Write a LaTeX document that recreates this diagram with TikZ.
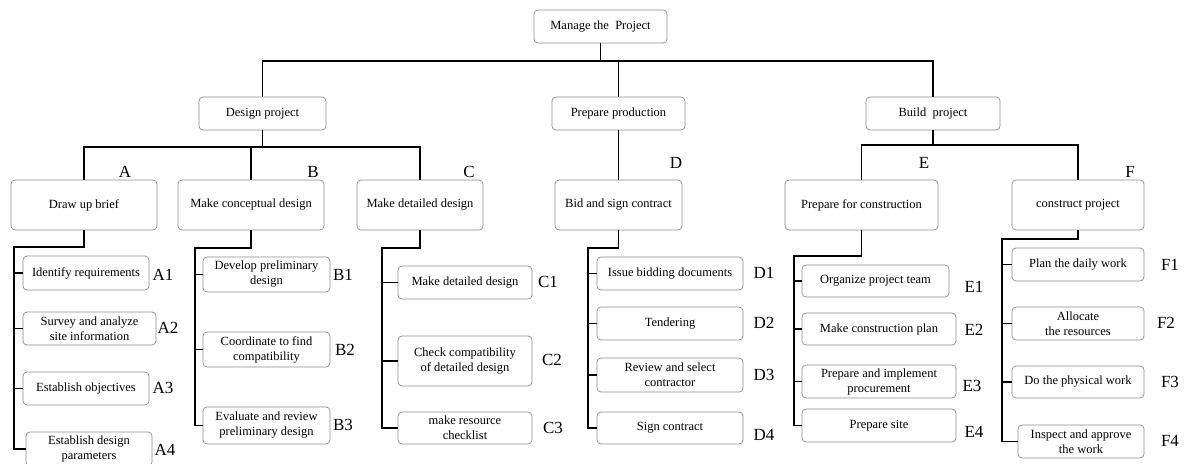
\documentclass[tikz,border=0pt]{standalone}
\usepackage{fontspec}
\setmainfont{Liberation Serif}
\usepackage{tikz}

\begin{document}
\begin{tikzpicture}[x=1pt,y=-1pt,
    box/.style={draw=black!45, line width=0.7pt, rounded corners=4pt, align=center,
      inner sep=0pt, font=\fontsize{12.5}{15}\selectfont},
    conn/.style={line width=1.6pt, black},
    tag/.style={font=\fontsize{17}{17}\selectfont, inner sep=0pt}]
      \useasboundingbox (0,0) rectangle (1188,463) ;
      \clip (0,0) rectangle (1188,463) ;
      % top levels
      \node[box,minimum width=133pt,minimum height=33pt] (M) at (600.5,26.5) {Manage the\ \ Project} ;
      \node[box,minimum width=127pt,minimum height=33pt] (Dp) at (262.5,113.5) {Design project} ;
      \node[box,minimum width=133pt,minimum height=33pt] (Pp) at (618.5,113.5) {Prepare production} ;
      \node[box,minimum width=134pt,minimum height=33pt] (Bp) at (933,113.5) {Build\ \ project} ;
      \node[box,minimum width=146pt,minimum height=50pt] (A) at (84,205) {Draw up brief} ;
      \node[box,minimum width=146pt,minimum height=50pt] (B) at (251,205) {Make conceptual design} ;
      \node[box,minimum width=126pt,minimum height=50pt] (C) at (420,205) {Make detailed design} ;
      \node[box,minimum width=127pt,minimum height=50pt] (D) at (618.5,205) {Bid and sign contract} ;
      \node[box,minimum width=153pt,minimum height=50pt] (E) at (861.5,205) {Prepare for construction} ;
      \node[box,minimum width=132pt,minimum height=50pt] (F) at (1078,205) {construct project} ;
      \node[tag] (tA) at (125,172) {A} ;
      \node[tag] (tB) at (313,172) {B} ;
      \node[tag] (tC) at (469,172) {C} ;
      \node[tag] (tD) at (676,163) {D} ;
      \node[tag] (tE) at (924,163) {E} ;
      \node[tag] (tF) at (1130,172) {F} ;
      % tasks
      \node[box,minimum width=126pt,minimum height=34pt] (A1) at (86,273) {Identify requirements} ;
      \node[box,minimum width=133pt,minimum height=33pt] (A2) at (89.5,328.5) {Survey and analyze\\site information} ;
      \node[box,minimum width=126pt,minimum height=33pt] (A3) at (86,388.5) {Establish objectives} ;
      \node[box,minimum width=126pt,minimum height=34pt] (A4) at (89,449) {Establish design\\parameters} ;
      \node[box,minimum width=127pt,minimum height=35pt] (B1) at (266.5,274.5) {Develop preliminary\\design} ;
      \node[box,minimum width=127pt,minimum height=35pt] (B2) at (266.5,349.5) {Coordinate to find\\compatibility} ;
      \node[box,minimum width=127pt,minimum height=37pt] (B3) at (266.5,425.5) {Evaluate and review\\preliminary design} ;
      \node[box,minimum width=134pt,minimum height=33pt] (C1) at (465,282.5) {Make detailed design} ;
      \node[box,minimum width=134pt,minimum height=50pt] (C2) at (465,361) {Check compatibility\\of detailed design} ;
      \node[box,minimum width=134pt,minimum height=32pt] (C3) at (465,428) {make resource\\checklist} ;
      \node[box,minimum width=146pt,minimum height=33pt] (D1) at (670,273.5) {Issue bidding documents} ;
      \node[box,minimum width=146pt,minimum height=33pt] (D2) at (670,323.5) {Tendering} ;
      \node[box,minimum width=146pt,minimum height=34pt] (D3) at (670,375) {Review and select\\contractor} ;
      \node[box,minimum width=146pt,minimum height=32pt] (D4) at (670,428) {Sign contract} ;
      \node[box,minimum width=147pt,minimum height=32pt] (E1) at (875.5,281) {Organize project team} ;
      \node[box,minimum width=154pt,minimum height=32pt] (E2) at (879,329) {Make construction plan} ;
      \node[box,minimum width=154pt,minimum height=33pt] (E3) at (879,381.5) {Prepare and implement\\procurement} ;
      \node[box,minimum width=154pt,minimum height=33pt] (E4) at (879,425.5) {Prepare site} ;
      \node[box,minimum width=132pt,minimum height=33pt] (F1) at (1078,264.5) {Plan the daily work} ;
      \node[box,minimum width=132pt,minimum height=33pt] (F2) at (1078,323.5) {Allocate\\the resources} ;
      \node[box,minimum width=132pt,minimum height=32pt] (F3) at (1078,382) {Do the physical work} ;
      \node[box,minimum width=126pt,minimum height=33pt] (F4) at (1081,441.5) {Inspect and approve\\the work} ;
      \node[tag] (tA1) at (163,275) {A1} ;
      \node[tag] (tA2) at (168,328) {A2} ;
      \node[tag] (tA3) at (163,388) {A3} ;
      \node[tag] (tA4) at (165,450) {A4} ;
      \node[tag] (tB1) at (343,275) {B1} ;
      \node[tag] (tB2) at (345,350) {B2} ;
      \node[tag] (tB3) at (343,425) {B3} ;
      \node[tag] (tC1) at (548,282) {C1} ;
      \node[tag] (tC2) at (552,360) {C2} ;
      \node[tag] (tC3) at (553,428) {C3} ;
      \node[tag] (tD1) at (764,273) {D1} ;
      \node[tag] (tD2) at (764,323) {D2} ;
      \node[tag] (tD3) at (764,375) {D3} ;
      \node[tag] (tD4) at (764,435) {D4} ;
      \node[tag] (tE1) at (974,287) {E1} ;
      \node[tag] (tE2) at (974,330) {E2} ;
      \node[tag] (tE3) at (972,386) {E3} ;
      \node[tag] (tE4) at (974,432) {E4} ;
      \node[tag] (tF1) at (1170,265) {F1} ;
      \node[tag] (tF2) at (1166,323) {F2} ;
      \node[tag] (tF3) at (1170,382) {F3} ;
      \node[tag] (tF4) at (1170,441) {F4} ;
      % upper connectors
      \coordinate (h0) at (0,61) ;
      \coordinate (h1) at (0,147) ;
      \coordinate (h2) at (0,145) ;
      \draw[conn] (M.south) -- (M.south |- h0) ;
      \draw[conn] (Dp.north) -- (Dp.north |- h0) -| (Bp.north) ;
      \draw[conn] (Pp.north) -- (Pp.north |- h0) ;
      \draw[conn] (Dp.south) -- (Dp.south |- h1) ;
      \draw[conn] (A.north) -- (A.north |- h1) -| (C.north) ;
      \draw[conn] (B.north) -- (B.north |- h1) ;
      \draw[conn] (Pp.south) -- (D.north) ;
      \draw[conn] (Bp.south) -- (Bp.south |- h2) ;
      \draw[conn] (E.north) -- (E.north |- h2) -| (F.north) ;
      % task brackets
      \coordinate (Ab) at (14,247) ;
      \coordinate (Bb) at (195,248) ;
      \coordinate (Cb) at (382,248) ;
      \coordinate (Db) at (588,248) ;
      \coordinate (Eb) at (794,256) ;
      \coordinate (Fb) at (1002,239) ;
      \draw[conn] (A.south) |- (Ab) -- (Ab |- A4.west) -- (A4.west) ;
      \draw[conn] (Ab |- A1.west) -- (A1.west) (Ab |- A2.west) -- (A2.west) (Ab |- A3.west) -- (A3.west) ;
      \draw[conn] (B.south) |- (Bb) -- (Bb |- B3.west) -- (B3.west) ;
      \draw[conn] (Bb |- B1.west) -- (B1.west) (Bb |- B2.west) -- (B2.west) ;
      \draw[conn] (C.south) |- (Cb) -- (Cb |- C3.west) -- (C3.west) ;
      \draw[conn] (Cb |- C1.west) -- (C1.west) (Cb |- C2.west) -- (C2.west) ;
      \draw[conn] (D.south) |- (Db) -- (Db |- D4.west) -- (D4.west) ;
      \draw[conn] (Db |- D1.west) -- (D1.west) (Db |- D2.west) -- (D2.west) (Db |- D3.west) -- (D3.west) ;
      \draw[conn] (E.south) |- (Eb) -- (Eb |- E4.west) -- (E4.west) ;
      \draw[conn] (Eb |- E1.west) -- (E1.west) (Eb |- E2.west) -- (E2.west) (Eb |- E3.west) -- (E3.west) ;
      \draw[conn] (F.south) |- (Fb) -- (Fb |- F4.west) -- (F4.west) ;
      \draw[conn] (Fb |- F1.west) -- (F1.west) (Fb |- F2.west) -- (F2.west) (Fb |- F3.west) -- (F3.west) ;
    \end{tikzpicture}
\end{document}
